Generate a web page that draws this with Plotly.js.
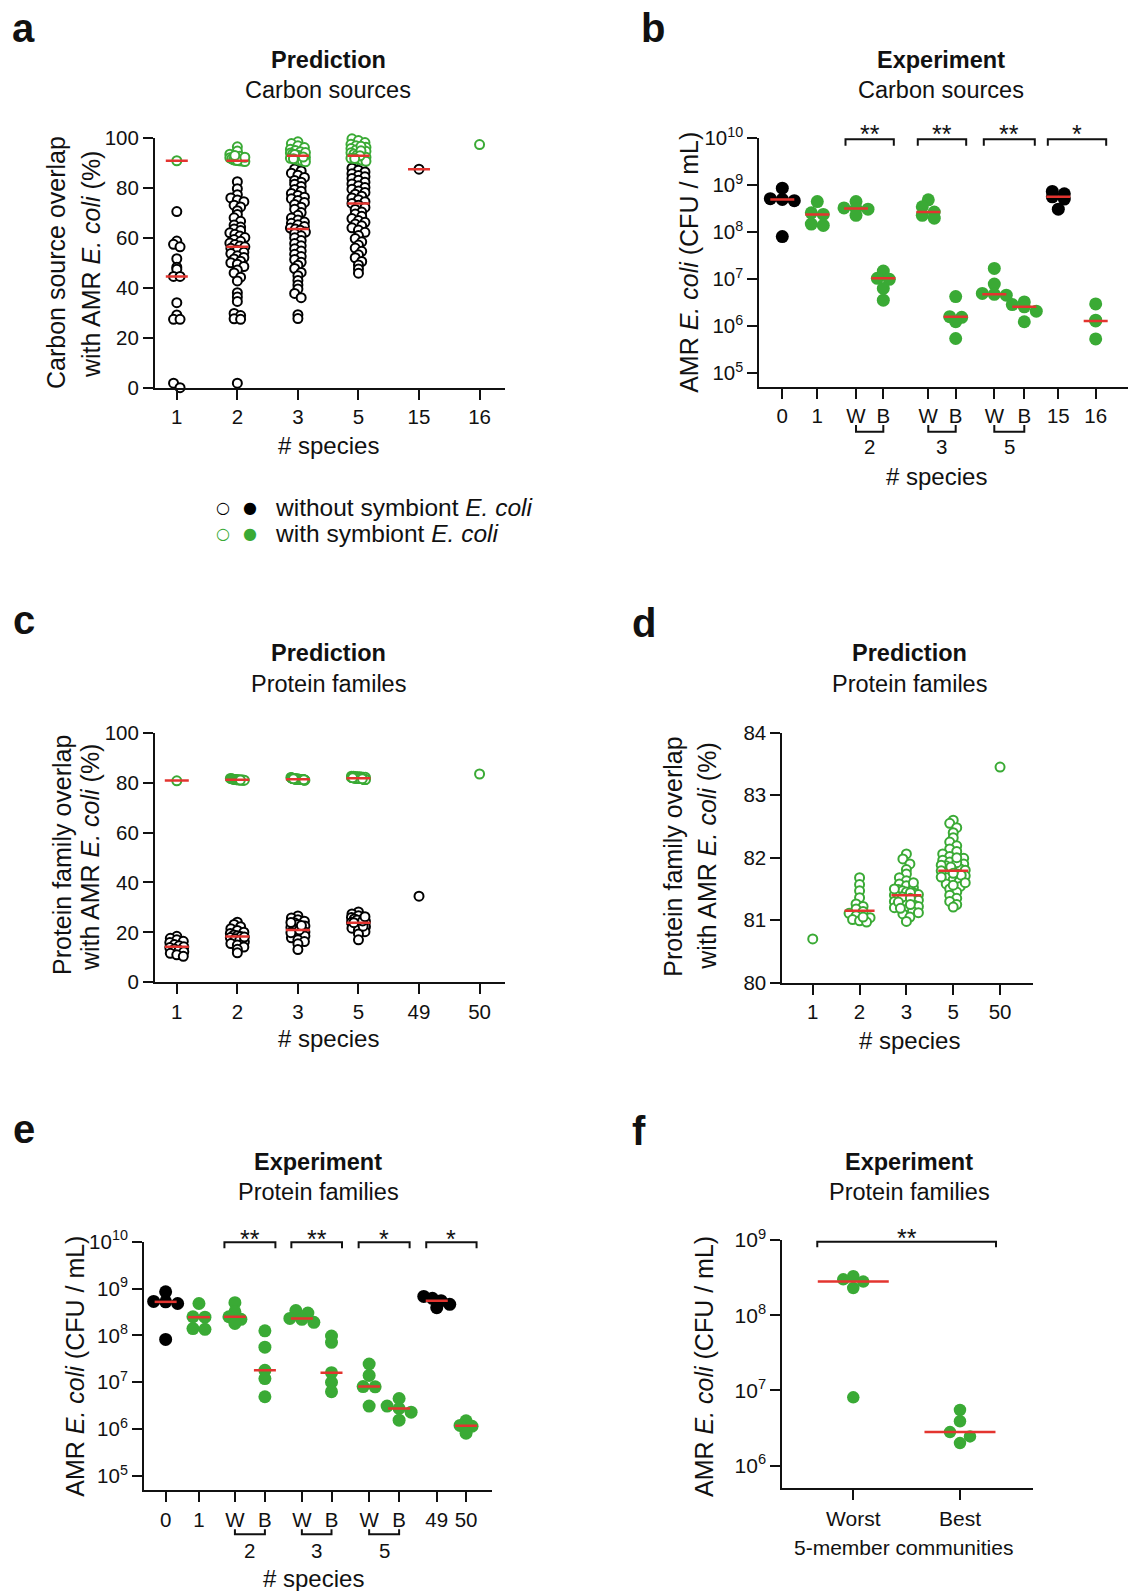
<!DOCTYPE html>
<html>
<head>
<meta charset="utf-8">
<script src="https://cdn.plot.ly/plotly-3.0.1.min.js"></script>
<style>html,body{margin:0;padding:0;background:#fff}#chart{width:1139px;height:1591px}</style>
</head>
<body>
<div id="chart"></div>
<script>
// ---------------- DATA ----------------
// Panel a: Prediction, carbon sources (% overlap)
const a_ticks = ['1', '2', '3', '5', '15', '16'];
const a_black_1 = [70.6, 58.8, 57.5, 56.5, 51.7, 48.3, 47.5, 44.6, 44.6, 34.1, 29.2, 27.4, 27.4, 1.8, 0];
const a_black_2 = [82.6, 79.8, 77.4, 76.1, 75.3, 74.6, 73.2, 72.5, 71.0, 69.4, 68.1, 66.7, 65.2, 64.4, 63.6, 63.0, 62.1, 61.5, 60.8, 60.2, 59.4, 58.7, 58.0, 57.4, 56.8, 56.5, 55.9, 55.1, 54.3, 53.8, 52.9, 52.2, 51.6, 50.7, 50.1, 49.5, 48.6, 47.2, 46.0, 44.3, 42.8, 38.1, 36.4, 34.6, 29.8, 28.9, 27.6, 27.4, 1.8];
const a_black_3 = [88.6, 87.7, 86.9, 86.0, 85.2, 84.3, 83.1, 82.4, 81.6, 80.7, 79.5, 78.8, 77.9, 77.1, 76.4, 75.8, 75.1, 74.3, 73.5, 72.4, 71.6, 70.2, 69.1, 68.0, 67.2, 66.4, 65.9, 65.3, 64.6, 64.0, 63.6, 63.1, 62.4, 61.8, 60.9, 60.1, 59.0, 57.8, 56.9, 55.7, 54.8, 53.5, 52.6, 51.4, 50.3, 49.1, 47.8, 46.2, 44.9, 43.0, 41.2, 39.6, 37.8, 36.1, 29.3, 27.7];
const a_black_5 = [89.9, 88.8, 88.0, 87.2, 86.5, 85.8, 85.1, 84.6, 83.9, 83.2, 82.4, 81.7, 81.0, 80.3, 79.6, 78.9, 78.3, 77.6, 76.8, 76.1, 75.4, 74.6, 73.9, 73.2, 72.3, 71.5, 70.4, 69.6, 68.7, 67.8, 67.0, 66.3, 65.6, 64.9, 64.1, 63.2, 62.3, 61.0, 59.8, 58.5, 57.2, 56.0, 54.7, 53.3, 52.1, 50.6, 49.2, 47.6, 45.9];
const a_black_15 = [87.6];
const a_green_1 = [91.0];
const a_green_2 = [96.6, 94.9, 93.6, 92.8, 92.2, 91.8, 91.4, 91.2, 91.0, 91.0, 90.9, 90.7, 91.1, 92.4, 93.1];
const a_green_3 = [98.6, 97.9, 97.0, 96.3, 95.6, 95.1, 94.6, 94.1, 93.7, 93.3, 93.0, 92.7, 92.3, 92.0, 91.6, 91.2, 90.9, 90.6, 93.5, 94.3, 92.5, 91.8];
const a_green_5 = [99.8, 99.1, 98.3, 97.6, 97.0, 96.4, 95.9, 95.3, 94.8, 94.2, 93.7, 93.2, 92.8, 92.4, 92.0, 91.6, 91.2, 90.8, 96.8, 95.0, 93.0, 91.9];
const a_green_16 = [97.5];
const a_med_black = [44.6, 56.5, 63.6, 73.9, 87.6, null];
const a_med_green = [91.0, 91.0, 93.0, 93.0, null, null];

// Panel b: Experiment, carbon sources (CFU/mL)
const b_ticks = ['0', '1', 'W', 'B', 'W', 'B', 'W', 'B', '15', '16'];
const b_0 = [8.7e8, 5.2e8, 5.0e8, 4.7e8, 8.1e7];
const b_1 = [4.5e8, 2.6e8, 2.4e8, 1.5e8, 1.4e8];
const b_2W = [4.5e8, 3.3e8, 3.2e8, 3.1e8, 2.3e8];
const b_2B = [1.5e7, 1.05e7, 1.0e7, 6.4e6, 3.6e6];
const b_3W = [4.9e8, 3.5e8, 2.7e8, 2.3e8, 2.0e8];
const b_3B = [4.3e6, 1.6e6, 1.55e6, 1.25e6, 5.5e5];
const b_5W = [1.7e7, 7.9e6, 5.0e6, 4.8e6, 4.6e6];
const b_5B = [3.3e6, 2.9e6, 2.6e6, 2.1e6, 1.25e6];
const b_15 = [7.4e8, 6.6e8, 5.7e8, 5.1e8, 3.1e8];
const b_16 = [3.0e6, 1.35e6, 1.3e6, 5.4e5];
const b_med = [5.0e8, 2.4e8, 3.2e8, 1.05e7, 2.7e8, 1.6e6, 4.8e6, 2.6e6, 5.7e8, 1.3e6];
const b_groups = ['2', '3', '5'];
const b_sig = ['**', '**', '**', '*'];

// Panel c: Prediction, protein families (% overlap)
const c_ticks = ['1', '2', '3', '5', '49', '50'];
const c_black_1 = [18.4, 17.6, 17.0, 16.4, 15.9, 15.1, 14.6, 14.2, 13.9, 13.3, 12.8, 12.2, 11.6, 11.0, 10.4];
const c_black_2 = [24.1, 23.2, 22.3, 21.5, 20.8, 20.1, 19.6, 19.0, 18.6, 18.3, 17.9, 17.4, 16.8, 16.2, 15.5, 14.9, 14.1, 13.2, 11.8, 18.1];
const c_black_3 = [26.6, 25.8, 25.1, 24.5, 23.9, 23.2, 22.6, 22.0, 21.5, 21.1, 20.7, 20.2, 19.7, 19.1, 18.5, 17.8, 17.0, 16.3, 15.4, 13.1, 21.0, 24.0, 22.8, 19.9];
const c_black_5 = [28.2, 27.4, 26.7, 26.0, 25.4, 24.9, 24.4, 24.0, 23.6, 23.2, 22.8, 22.3, 21.7, 21.0, 20.3, 19.4, 17.0, 25.0, 23.9, 22.5, 24.6, 26.3];
const c_black_49 = [34.5];
const c_med_black = [14.2, 18.3, 21.0, 23.9, null, null];
const c_med_green = [80.8, 81.15, 81.4, 81.8, null, null];

// Panel d (and green points of panel c): with symbiont E. coli
const d_ticks = ['1', '2', '3', '5', '50'];
const d_green_1 = [80.7];
const d_green_2 = [81.68, 81.57, 81.47, 81.36, 81.26, 81.22, 81.18, 81.14, 81.11, 81.07, 81.04, 81.01, 80.99, 80.97, 81.05];
const d_green_3 = [82.06, 81.98, 81.9, 81.81, 81.74, 81.68, 81.63, 81.58, 81.55, 81.52, 81.49, 81.47, 81.45, 81.43, 81.41, 81.4, 81.38, 81.36, 81.34, 81.32, 81.3, 81.28, 81.26, 81.24, 81.22, 81.2, 81.17, 81.14, 81.1, 81.05, 80.98, 81.5, 81.44, 81.37, 81.35, 81.29, 81.25, 81.6, 81.19, 81.12];
const d_green_5 = [82.6, 82.55, 82.48, 82.4, 82.32, 82.25, 82.19, 82.14, 82.1, 82.06, 82.02, 81.99, 81.96, 81.93, 81.9, 81.87, 81.84, 81.82, 81.8, 81.78, 81.76, 81.74, 81.71, 81.68, 81.65, 81.62, 81.58, 81.54, 81.5, 81.45, 81.4, 81.35, 81.3, 81.25, 81.21, 81.88, 81.79, 81.72, 81.6, 81.92, 81.85, 81.75, 81.69, 82.0, 81.56];
const d_green_50 = [83.45];
const d_med = [null, 81.15, 81.4, 81.79, null];

// Panel e: Experiment, protein families (CFU/mL)
const e_ticks = ['0', '1', 'W', 'B', 'W', 'B', 'W', 'B', '49', '50'];
const e_0 = [8.5e8, 5.3e8, 5.2e8, 4.8e8, 8.2e7];
const e_1 = [4.8e8, 2.5e8, 2.45e8, 1.4e8, 1.35e8];
const e_2W = [5.0e8, 3.2e8, 2.5e8, 2.2e8, 1.8e8];
const e_2B = [1.25e8, 5.6e7, 1.8e7, 1.2e7, 4.9e6];
const e_3W = [3.4e8, 3.0e8, 2.3e8, 2.2e8, 1.9e8];
const e_3B = [9.7e7, 7.1e7, 1.6e7, 1.0e7, 6.3e6];
const e_5W = [2.45e7, 1.4e7, 8.1e6, 8.0e6, 3.1e6];
const e_5B = [4.5e6, 3.1e6, 2.75e6, 2.3e6, 1.55e6];
const e_49 = [6.8e8, 6.2e8, 5.5e8, 4.6e8, 3.9e8];
const e_50 = [1.5e6, 1.2e6, 1.15e6, 8.2e5];
const e_med = [5.2e8, 2.45e8, 2.5e8, 1.8e7, 2.3e8, 1.6e7, 8.1e6, 2.75e6, 5.5e8, 1.18e6];
const e_groups = ['2', '3', '5'];
const e_sig = ['**', '**', '*', '*'];

// Panel f: 5-member communities
const f_ticks = ['Worst', 'Best'];
const f_worst = [3.3e8, 3.0e8, 2.8e8, 2.3e8, 8.1e6];
const f_best = [5.5e6, 3.9e6, 2.8e6, 2.45e6, 2.0e6];
const f_med = [2.8e8, 2.8e6];
const f_sig = ['**'];

const log_tickvals = [1e5, 1e6, 1e7, 1e8, 1e9, 1e10];
const log_ticktext = ['10<sup>5</sup>', '10<sup>6</sup>', '10<sup>7</sup>', '10<sup>8</sup>', '10<sup>9</sup>', '10<sup>10</sup>'];

// ---------------- LAYOUT GEOMETRY (pixels) ----------------
const W = 1139, H = 1591;
const FONT = 'Liberation Sans, Arial, Helvetica, sans-serif';
const INK = '#111111', GREEN = '#3aaa35', RED = '#e3342f';

const P = {
  a: {id: '',  x0: 155,   x1: 505,    yTop: 138.3,  yBot: 387.7,  xr: [-0.36, 5.42],   yr: [0, 100]},
  b: {id: '2', x0: 759.3, x1: 1128,   yTop: 138.3,  yBot: 386.7,  xr: [-0.657, 9.877], yr: [4.715, 10], log: true},
  c: {id: '3', x0: 155,   x1: 505,    yTop: 732.7,  yBot: 982.3,  xr: [-0.36, 5.42],   yr: [0, 100]},
  d: {id: '4', x0: 782.3, x1: 1033.3, yTop: 732.7,  yBot: 982.7,  xr: [-0.65, 4.71],   yr: [80, 84]},
  e: {id: '5', x0: 144,   x1: 491.7,  yTop: 1241.7, yBot: 1490,   xr: [-0.65, 9.79],   yr: [4.70, 10], log: true},
  f: {id: '6', x0: 782.3, x1: 1033.3, yTop: 1240,   yBot: 1488.3, xr: [-0.665, 1.687], yr: [5.70, 9], log: true}
};
const posA = [0, 1, 2, 3, 4, 5];
const posB = [0, 1, 2.106, 2.886, 4.171, 4.954, 6.057, 6.914, 7.886, 8.954];
const posD = [0, 1, 2, 3, 4];
const posE = [0, 1, 2.08, 2.98, 4.09, 4.98, 6.11, 7.01, 8.14, 9.02];
const posF = [0, 1];

const layout = {
  width: W, height: H, margin: {l: 0, r: 0, t: 0, b: 0},
  paper_bgcolor: '#ffffff', plot_bgcolor: 'rgba(0,0,0,0)',
  showlegend: false, font: {family: FONT, color: INK},
  annotations: [], shapes: []
};

function addAxes(p, xt, xtt, yt, ytt, tickSize) {
  const common = {
    ticks: 'outside', ticklen: 10, tickwidth: 2, tickcolor: INK,
    showline: true, linewidth: 2, linecolor: INK, showgrid: false, zeroline: false,
    tickfont: {family: FONT, size: tickSize || 20.5, color: INK}, fixedrange: true
  };
  layout['xaxis' + p.id] = Object.assign({}, common, {
    domain: [p.x0 / W, p.x1 / W], range: p.xr, anchor: 'y' + p.id,
    tickmode: 'array', tickvals: xt, ticktext: xtt
  });
  layout['yaxis' + p.id] = Object.assign({}, common, {
    domain: [1 - p.yBot / H, 1 - p.yTop / H], range: p.yr, anchor: 'x' + p.id,
    type: p.log ? 'log' : 'linear', tickmode: 'array', tickvals: yt, ticktext: ytt
  });
}

function scales(p) {
  return {sx: (p.x1 - p.x0) / (p.xr[1] - p.xr[0]), sy: (p.yBot - p.yTop) / (p.yr[1] - p.yr[0])};
}

// column-scatter offsets: points binned by pixel height, each bin row centred
function swarmOffsets(vals, p, o) {
  const s = scales(p);
  const yp = vals.map(v => (p.log ? Math.log10(v) : v) * s.sy);
  const bins = {};
  yp.map((y, i) => i).sort((i, j) => yp[j] - yp[i]).forEach(i => {
    const b = Math.floor(yp[i] / o.binH);
    (bins[b] = bins[b] || []).push(i);
  });
  const off = new Array(vals.length).fill(0);
  Object.values(bins).forEach(row => {
    const n = row.length;
    const sp = n > 1 ? Math.min(o.spacing, o.maxSpread / (n - 1)) : 0;
    row.forEach((i, k) => { off[i] = ((k - (n - 1) / 2) * sp) / s.sx; });
  });
  return off;
}

function swarmTrace(groups, p, o, marker) {
  const x = [], y = [];
  groups.forEach(g => {
    if (!g.vals || !g.vals.length) return;
    const off = swarmOffsets(g.vals, p, o);
    g.vals.forEach((v, i) => { x.push(g.pos + off[i]); y.push(v); });
  });
  return {type: 'scatter', mode: 'markers', x, y, xaxis: 'x' + p.id, yaxis: 'y' + p.id,
          cliponaxis: false, hoverinfo: 'skip', marker};
}

function medianTrace(meds, pos, halfPx, p) {
  const hw = halfPx / scales(p).sx;
  const x = [], y = [];
  meds.forEach((m, i) => { if (m == null) return; x.push(pos[i] - hw, pos[i] + hw, null); y.push(m, m, null); });
  return {type: 'scatter', mode: 'lines', x, y, xaxis: 'x' + p.id, yaxis: 'y' + p.id,
          cliponaxis: false, hoverinfo: 'skip', line: {color: RED, width: 2.5}};
}

function txt(text, x, y, size, extra) {
  layout.annotations.push(Object.assign({
    text, x: x / W, y: 1 - y / H, xref: 'paper', yref: 'paper', showarrow: false,
    xanchor: 'center', yanchor: 'middle', font: {family: FONT, size, color: INK}
  }, extra || {}));
}
function bracket(p, xa, xb, yLinePx, yEndPx) {
  const yl = 1 - yLinePx / H, ye = 1 - yEndPx / H;
  layout.shapes.push({type: 'path', xref: 'x' + p.id, yref: 'paper',
    path: `M ${xa},${ye} L ${xa},${yl} L ${xb},${yl} L ${xb},${ye}`,
    line: {color: INK, width: 2}});
}

const openBlack = {symbol: 'circle', size: 9, color: '#ffffff', line: {color: '#000000', width: 2}};
const openGreen = {symbol: 'circle', size: 9, color: '#ffffff', line: {color: GREEN, width: 2}};
const fillBlack = s => ({symbol: 'circle', size: s, color: '#000000', line: {width: 0}});
const fillGreen = s => ({symbol: 'circle', size: s, color: GREEN, line: {width: 0}});

const traces = [];

// ---- Panel a ----
addAxes(P.a, posA, a_ticks, [0, 20, 40, 60, 80, 100], ['0', '20', '40', '60', '80', '100']);
const swA = {binH: 5, spacing: 6.5, maxSpread: 15};
traces.push(swarmTrace([a_black_1, a_black_2, a_black_3, a_black_5, a_black_15, []].map((v, i) => ({vals: v, pos: posA[i]})), P.a, swA, openBlack));
traces.push(swarmTrace([a_green_1, a_green_2, a_green_3, a_green_5, [], a_green_16].map((v, i) => ({vals: v, pos: posA[i]})), P.a, swA, openGreen));
traces.push(medianTrace(a_med_black, posA, 11, P.a));
traces.push(medianTrace(a_med_green, posA, 11, P.a));

// ---- Panel b ----
addAxes(P.b, posB, b_ticks, log_tickvals, log_ticktext);
const swB = {binH: 9, spacing: 12, maxSpread: 26};
const bAll = [b_0, b_1, b_2W, b_2B, b_3W, b_3B, b_5W, b_5B, b_15, b_16];
const blackIdx = [0, 8];
traces.push(swarmTrace(bAll.map((v, i) => ({vals: blackIdx.includes(i) ? v : [], pos: posB[i]})), P.b, swB, fillBlack(13)));
traces.push(swarmTrace(bAll.map((v, i) => ({vals: blackIdx.includes(i) ? [] : v, pos: posB[i]})), P.b, swB, fillGreen(13)));
traces.push(medianTrace(b_med, posB, 12, P.b));

// ---- Panel c ----
addAxes(P.c, posA, c_ticks, [0, 20, 40, 60, 80, 100], ['0', '20', '40', '60', '80', '100']);
const swC = {binH: 5, spacing: 6.5, maxSpread: 14};
traces.push(swarmTrace([c_black_1, c_black_2, c_black_3, c_black_5, c_black_49, []].map((v, i) => ({vals: v, pos: posA[i]})), P.c, swC, openBlack));
traces.push(swarmTrace([d_green_1, d_green_2, d_green_3, d_green_5, [], d_green_50].map((v, i) => ({vals: v, pos: posA[i]})), P.c, swC, openGreen));
traces.push(medianTrace(c_med_black, posA, 12, P.c));
traces.push(medianTrace(c_med_green, posA, 12, P.c));

// ---- Panel d ----
addAxes(P.d, posD, d_ticks, [80, 81, 82, 83, 84], ['80', '81', '82', '83', '84']);
const swD = {binH: 6, spacing: 7, maxSpread: 24};
traces.push(swarmTrace([d_green_1, d_green_2, d_green_3, d_green_5, d_green_50].map((v, i) => ({vals: v, pos: posD[i]})), P.d, swD, openGreen));
traces.push(medianTrace(d_med, posD, 15, P.d));

// ---- Panel e ----
addAxes(P.e, posE, e_ticks, log_tickvals, log_ticktext);
const eAll = [e_0, e_1, e_2W, e_2B, e_3W, e_3B, e_5W, e_5B, e_49, e_50];
traces.push(swarmTrace(eAll.map((v, i) => ({vals: blackIdx.includes(i) ? v : [], pos: posE[i]})), P.e, swB, fillBlack(13)));
traces.push(swarmTrace(eAll.map((v, i) => ({vals: blackIdx.includes(i) ? [] : v, pos: posE[i]})), P.e, swB, fillGreen(13)));
traces.push(medianTrace(e_med, posE, 11, P.e));

// ---- Panel f ----
addAxes(P.f, posF, f_ticks, [1e6, 1e7, 1e8, 1e9], ['10<sup>6</sup>', '10<sup>7</sup>', '10<sup>8</sup>', '10<sup>9</sup>'], 21);
const swF = {binH: 9, spacing: 20, maxSpread: 42};
traces.push(swarmTrace([f_worst, f_best].map((v, i) => ({vals: v, pos: posF[i]})), P.f, swF, fillGreen(12.5)));
traces.push(medianTrace(f_med, posF, 35.5, P.f));

// ---------------- TEXT & DECORATION ----------------
const LET = 40, TT = 23.5, AX = 24, AY = 25;
// panel letters
[['a', 23.5, 28], ['b', 652.5, 28], ['c', 23.5, 620], ['d', 643.5, 623], ['e', 23.5, 1129], ['f', 638.5, 1131]]
  .forEach(([t, x, y]) => txt('<b>' + t + '</b>', x, y, LET));

// titles
[[328, 60, 'Prediction', 'Carbon sources'], [940.7, 60, 'Experiment', 'Carbon sources'],
 [328, 653.3, 'Prediction', 'Protein familes'], [909.3, 653.3, 'Prediction', 'Protein familes'],
 [318.3, 1161.7, 'Experiment', 'Protein families'], [909.3, 1161.7, 'Experiment', 'Protein families']]
  .forEach(([x, y, t1, t2]) => { txt('<b>' + t1 + '</b>', x, y, TT); txt(t2, x, y + 30.5, TT); });

// y-axis titles
const rot = {textangle: -90};
txt('Carbon source overlap', 56, 263, AY, rot);
txt('with AMR <i>E. coli</i> (%)', 91, 265, AY, rot);
txt('AMR <i>E. coli</i> (CFU / mL)', 688.3, 262.5, AY, rot);
txt('Protein family overlap', 62, 855, AY, rot);
txt('with AMR <i>E. coli</i> (%)', 90, 858, AY, rot);
txt('Protein family overlap', 673, 856.7, AY, rot);
txt('with AMR <i>E. coli</i> (%)', 707, 856.7, AY, rot);
txt('AMR <i>E. coli</i> (CFU / mL)', 75, 1366.7, AY, rot);
txt('AMR <i>E. coli</i> (CFU / mL)', 703.3, 1366.7, AY, rot);

// x-axis titles
txt('# species', 328, 445, AX);
txt('# species', 936.7, 476.7, AX);
txt('# species', 328, 1038, AX);
txt('# species', 909.3, 1040, AX);
txt('# species', 313.3, 1578.3, AX);
txt('5-member communities', 903.3, 1547.3, 21);

// group brackets under W/B ticks and significance brackets
function experimentDeco(p, pos, groups, sig, grpLine, grpEnd, grpNumY, sigLine, sigEnd, starY, spanPx) {
  const hw = spanPx / scales(p).sx;
  groups.forEach((g, k) => {
    const iW = 2 + 2 * k, iB = 3 + 2 * k;
    bracket(p, pos[iW], pos[iB], grpLine, grpEnd);
    const xc = (pos[iW] + pos[iB]) / 2;
    layout.annotations.push({text: g, x: xc, xref: 'x' + p.id, y: 1 - grpNumY / H, yref: 'paper',
      showarrow: false, xanchor: 'center', yanchor: 'middle', font: {family: FONT, size: 20.5, color: INK}});
  });
  sig.forEach((s, k) => {
    const i1 = 2 + 2 * k, i2 = 3 + 2 * k;
    bracket(p, pos[i1] - hw, pos[i2] + hw, sigLine, sigEnd);
    layout.annotations.push({text: s, x: (pos[i1] + pos[i2]) / 2, xref: 'x' + p.id, y: 1 - starY / H, yref: 'paper',
      showarrow: false, xanchor: 'center', yanchor: 'middle', font: {family: FONT, size: 25, color: INK}});
  });
}
experimentDeco(P.b, posB, b_groups, b_sig, 431.7, 425, 446.7, 139.3, 145.7, 134, 10.5);
experimentDeco(P.e, posE, e_groups, e_sig, 1534.3, 1529.3, 1550, 1242.3, 1248.3, 1239, 10.5);
// panel f bracket
{
  const hw = 36 / scales(P.f).sx;
  bracket(P.f, posF[0] - hw, posF[1] + hw, 1241.7, 1247.3);
  layout.annotations.push({text: f_sig[0], x: (posF[0] + posF[1]) / 2, xref: 'x6', y: 1 - 1237.5 / H, yref: 'paper',
    showarrow: false, xanchor: 'center', yanchor: 'middle', font: {family: FONT, size: 25, color: INK}});
}

// legend
const GL = 'DejaVu Sans, sans-serif';
txt('<b>○</b>', 223, 507, 16, {font: {family: GL, size: 16, color: '#000'}});
txt('●', 250, 507, 16, {font: {family: GL, size: 16, color: '#000'}});
txt('<b>○</b>', 223, 533, 16, {font: {family: GL, size: 16, color: GREEN}});
txt('●', 250, 533, 16, {font: {family: GL, size: 16, color: GREEN}});
txt('without symbiont <i>E. coli</i>', 273, 507, 24.5, {xanchor: 'left'});
txt('with symbiont <i>E. coli</i>', 273, 533, 24.5, {xanchor: 'left'});

Plotly.newPlot('chart', traces, layout, {displayModeBar: false, staticPlot: true});
</script>
</body>
</html>
